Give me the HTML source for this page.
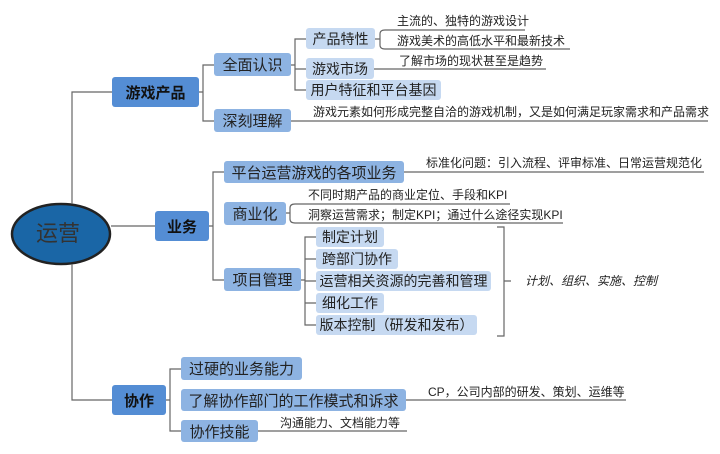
<!DOCTYPE html>
<html><head><meta charset="utf-8"><style>
body{margin:0;width:720px;height:454px;background:#fff;position:relative;overflow:hidden;font-family:"Liberation Sans","Noto Sans CJK SC",sans-serif;}
.b{position:absolute;display:flex;align-items:center;justify-content:center;border-radius:3px;color:#222;white-space:nowrap;}
.l1{background:#548dd4;font-weight:bold;font-size:15px;color:#111;}
.l2{background:#8db3e2;font-size:15px;color:#222;}
.l3{background:#c6d9f1;font-size:14px;color:#222;}
.t{position:absolute;font-size:12px;color:#222;white-space:nowrap;line-height:14px;}
svg{position:absolute;left:0;top:0;}
</style></head><body>
<svg width="720" height="454" fill="none" stroke="#666" stroke-width="1.2">
<ellipse cx="61" cy="234" rx="49" ry="30" fill="#1a66a6" stroke="#222" stroke-width="2.5"/>
<path d="M72 204V92H112M72 264V400H112M111 226H155"/>
<path d="M199 92H203M214 65H203V121H214"/>
<path d="M291 65H295M306 39H295V90H306M295 69H306"/>
<path d="M375 39H380M385 30Q380 30 380 34V45Q380 49 385 49H570M385 30H525"/>
<path d="M374 69H546M291 121H708"/>
<path d="M209 226H213M224 172H213V280H224M404 172H704"/>
<path d="M286 213H290M295 204H510M295 204Q290 204 290 208V219Q290 223 295 223H563"/>
<path d="M301 280H305M316 237H305V325H316M305 259H316M305 281H316M305 303H316"/>
<path d="M497 227H504V336H497M504 281H511"/>
<path d="M166 400H170M181 369H170V431H181M406 400H626M258 431H407"/>
</svg>
<div class="t" style="left:36px;top:221px;font-size:22px;line-height:25px;color:#333">运营</div>
<div class="b l1" style="left:112px;top:77px;width:87px;height:30px">游戏产品</div>
<div class="b l1" style="left:155px;top:211px;width:54px;height:30px">业务</div>
<div class="b l1" style="left:112px;top:385px;width:54px;height:30px">协作</div>
<div class="b l2" style="left:214px;top:53px;width:77px;height:23px">全面认识</div>
<div class="b l2" style="left:214px;top:109px;width:77px;height:23px">深刻理解</div>
<div class="b l3" style="left:306px;top:28px;width:69px;height:21px">产品特性</div>
<div class="b l3" style="left:306px;top:58px;width:68px;height:21px">游戏市场</div>
<div class="b l3" style="left:306px;top:80px;width:135px;height:20px">用户特征和平台基因</div>
<div class="t" style="left:397px;top:14px">主流的、独特的游戏设计</div>
<div class="t" style="left:397px;top:34px">游戏美术的高低水平和最新技术</div>
<div class="t" style="left:399px;top:54px">了解市场的现状甚至是趋势</div>
<div class="t" style="left:313px;top:105px">游戏元素如何形成完整自洽的游戏机制，又是如何满足玩家需求和产品需求</div>
<div class="b l2" style="left:224px;top:161px;width:180px;height:22px">平台运营游戏的各项业务</div>
<div class="t" style="left:426px;top:156px">标准化问题：引入流程、评审标准、日常运营规范化</div>
<div class="b l2" style="left:224px;top:202px;width:62px;height:23px">商业化</div>
<div class="t" style="left:308px;top:188px">不同时期产品的商业定位、手段和KPI</div>
<div class="t" style="left:308px;top:208px">洞察运营需求；制定KPI；通过什么途径实现KPI</div>
<div class="b l2" style="left:224px;top:268px;width:77px;height:23px">项目管理</div>
<div class="b l3" style="left:316px;top:227px;width:68px;height:20px">制定计划</div>
<div class="b l3" style="left:316px;top:249px;width:82px;height:20px">跨部门协作</div>
<div class="b l3" style="left:316px;top:271px;width:175px;height:20px">运营相关资源的完善和管理</div>
<div class="b l3" style="left:316px;top:293px;width:68px;height:20px">细化工作</div>
<div class="b l3" style="left:316px;top:315px;width:161px;height:20px">版本控制（研发和发布）</div>
<div class="t" style="left:525px;top:274px;font-style:italic">计划、组织、实施、控制</div>
<div class="b l2" style="left:181px;top:357px;width:121px;height:23px">过硬的业务能力</div>
<div class="b l2" style="left:181px;top:389px;width:225px;height:22px">了解协作部门的工作模式和诉求</div>
<div class="t" style="left:428px;top:385px">CP，公司内部的研发、策划、运维等</div>
<div class="b l2" style="left:181px;top:420px;width:77px;height:22px">协作技能</div>
<div class="t" style="left:280px;top:416px">沟通能力、文档能力等</div>
</body></html>
